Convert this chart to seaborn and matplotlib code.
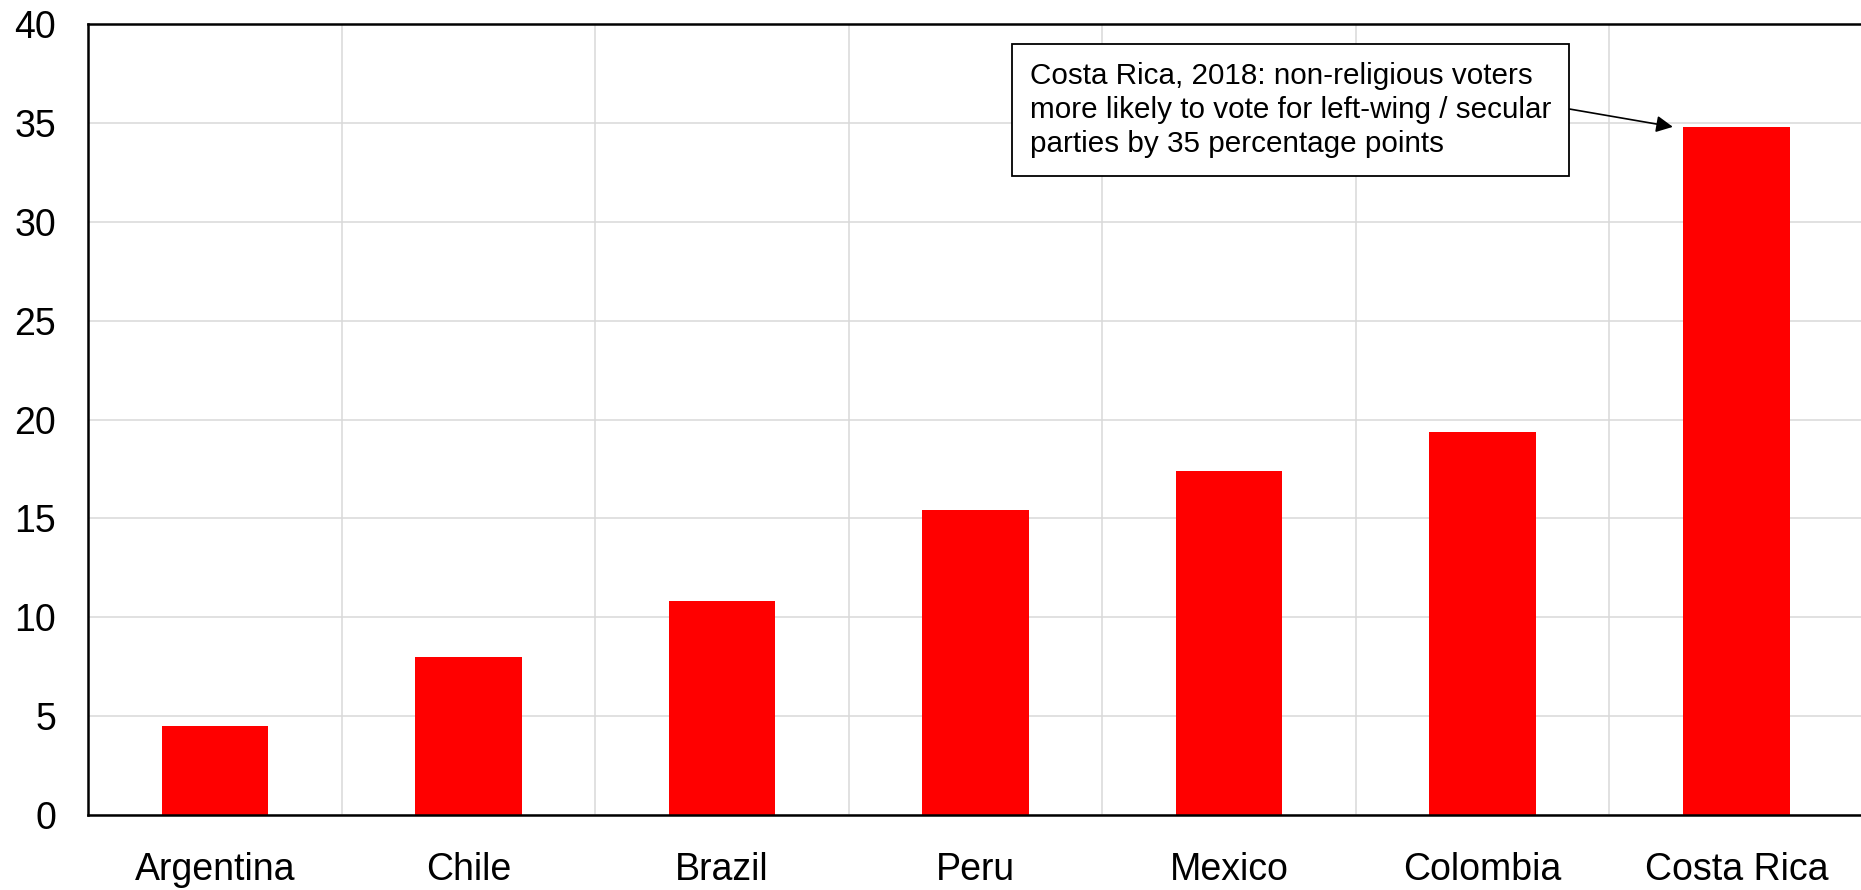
import matplotlib
matplotlib.use("Agg")
import matplotlib.pyplot as plt
import seaborn as sns
import pandas as pd
import numpy as np

# Gap in left-wing / secular vote share between non-religious and religious voters
countries = ["Argentina", "Chile", "Brazil", "Peru", "Mexico", "Colombia", "Costa Rica"]
gap_pp = [4.5, 8.0, 10.8, 15.4, 17.4, 19.35, 34.8]
y_ticks = [0, 5, 10, 15, 20, 25, 30, 35, 40]
note = ("Costa Rica, 2018: non-religious voters\n"
        "more likely to vote for left-wing / secular\n"
        "parties by 35 percentage points")

sns.set_style("white")
plt.rcParams["font.family"] = ["Liberation Sans", "DejaVu Sans"]
plt.rcParams["text.color"] = "black"

df = pd.DataFrame({"country": countries, "gap": gap_pp})

fig = plt.figure(figsize=(18.61, 8.90), dpi=100)
ax = fig.add_axes([0.0473, 0.0843, 0.9538, 0.8887])

sns.barplot(data=df, x="country", y="gap", color="#ff0000", saturation=1,
            width=0.42, linewidth=0, ax=ax)

ax.set_xlim(-0.5, len(countries) - 0.5)
ax.set_ylim(0, 40)
ax.set_yticks(y_ticks)
ax.set_xticks(np.arange(len(countries)) + 0.5, minor=True)

ax.set_axisbelow(True)
ax.grid(axis="y", which="major", color="#d9d9d9", linewidth=1.1)
ax.grid(axis="x", which="minor", color="#d9d9d9", linewidth=1.1)
ax.grid(axis="x", which="major", visible=False)

ax.tick_params(axis="both", which="both", length=0, labelsize=27, colors="black")
ax.tick_params(axis="y", pad=23)
ax.tick_params(axis="x", pad=27)
ax.set_xlabel("")
ax.set_ylabel("")

for side in ["left", "bottom", "top"]:
    ax.spines[side].set_visible(True)
    ax.spines[side].set_color("black")
    ax.spines[side].set_linewidth(1.8)
ax.spines["right"].set_visible(False)

cr = countries.index("Costa Rica")
ax.annotate(note,
            xy=(cr - 0.25, gap_pp[cr]), xycoords="data",
            xytext=(3.215, 38.1), textcoords="data",
            ha="left", va="top", fontsize=21.3, linespacing=1.28, color="black",
            bbox=dict(boxstyle="square,pad=0.6", fc="white", ec="black", lw=1.3),
            arrowprops=dict(arrowstyle="-|>", color="black", lw=1.2,
                            relpos=(1.0, 0.54), shrinkA=0, shrinkB=0,
                            mutation_scale=25))

fig.savefig("out.png", dpi=100)
